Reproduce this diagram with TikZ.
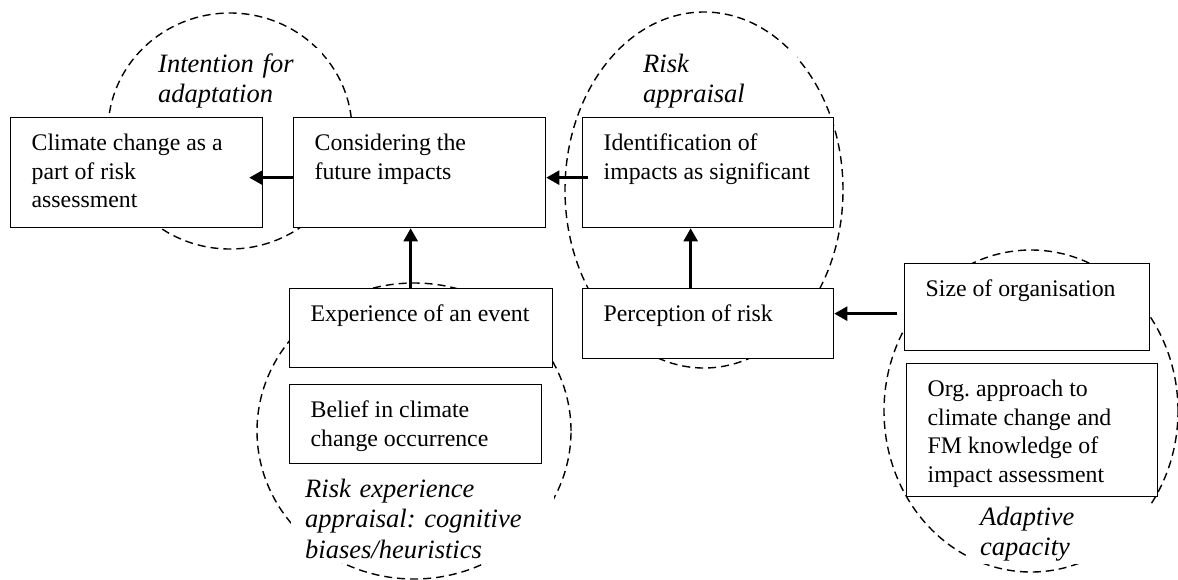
\documentclass[tikz,border=0pt]{standalone}
\usepackage{fontspec}
\setmainfont{Liberation Serif}
\usetikzlibrary{arrows.meta}
\tikzset{
  factor box/.style={draw, fill=white, line width=1.3pt, anchor=north west, inner xsep=0pt, inner ysep=13pt, font=\fontsize{23.8}{28.5}\selectfont},
  group line/.style={line width=1.4pt, dash pattern=on 8pt off 5pt},
  group label/.style={fill=white, anchor=base west, inner xsep=14pt, inner ysep=5pt, align=left, font=\fontsize{26.5}{30.5}\selectfont\itshape},
  flow arrow/.style={line width=2.4pt, -{Triangle[length=13pt,width=14pt]}},
}
\newcommand{\boxText}[3]{\parbox[t][#2][t]{#1}{\leftskip=21pt\rightskip=0pt plus 1fil\parfillskip=0pt\strut#3}}
\frenchspacing

\begin{document}
\begin{tikzpicture}[x=1pt, y=-1pt]
  \useasboundingbox (0,0) rectangle (1178,579);
  % dashed groups
  \draw[group line] (230,131) ellipse [x radius=122pt, y radius=118pt];
  \draw[group line] (704,190) ellipse [x radius=139pt, y radius=178pt];
  \draw[group line] (414,431) ellipse [x radius=157pt, y radius=148pt];
  \draw[group line] (1031,411) ellipse [x radius=147pt, y radius=161pt];
  \node[group label, text width=150pt] (intention) at (144,72) {Intention for\\adaptation};
  \node[group label, text width=140pt] (appraisal) at (629,72) {Risk\\appraisal};
  \node[group label, text width=235pt] (experience) at (291,497) {Risk experience\\appraisal: cognitive\\biases/heuristics};
  \node[group label, text width=158pt, inner ysep=3pt] (capacity) at (966,525) {Adaptive\\capacity};
  % factors
  \node[factor box] (climate) at (10,117) {\boxText{252pt}{84pt}{Climate change as a\\part of risk\\assessment}};
  \node[factor box] (future) at (293,117) {\boxText{252pt}{84pt}{Considering the\\future impacts}};
  \node[factor box] (identify) at (582,117) {\boxText{251pt}{84pt}{Identification of\\impacts as significant}};
  \node[factor box] (event) at (289,288) {\boxText{263pt}{53pt}{Experience of an event}};
  \node[factor box] (belief) at (289,384) {\boxText{252pt}{53pt}{Belief in climate\\change occurrence}};
  \node[factor box] (perception) at (582,288) {\boxText{251pt}{44pt}{Perception of risk}};
  \node[factor box] (size) at (904,263) {\boxText{245pt}{61pt}{Size of organisation}};
  \node[factor box] (approach) at (906,363) {\boxText{251pt}{107pt}{Org. approach to\\climate change and\\FM knowledge of\\impact assessment}};
  % arrows
  \draw[flow arrow] ([yshift=-5pt]future.west) -- ([xshift=-14pt,yshift=-5pt]climate.east);
  \draw[flow arrow] ([xshift=6pt,yshift=-5pt]identify.west) -- ([yshift=-5pt]future.east);
  \draw[flow arrow] ([xshift=-7pt,yshift=-6.5pt]size.west) -- ([yshift=10pt]perception.east);
  \draw[flow arrow] ([xshift=-10.5pt]event.north) -- ([xshift=-10.5pt]event.north |- future.south);
  \draw[flow arrow] ([xshift=-17.5pt]perception.north) -- ([xshift=-17.5pt]perception.north |- identify.south);
\end{tikzpicture}
\end{document}
